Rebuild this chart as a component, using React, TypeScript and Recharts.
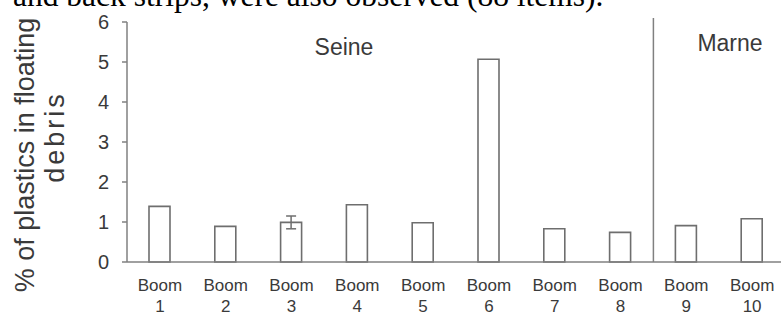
import React from 'react';
import { BarChart, Bar, XAxis, YAxis, ReferenceLine, ErrorBar, Customized } from 'recharts';

const boomNumbers = [1, 2, 3, 4, 5, 6, 7, 8, 9, 10];
const plasticShare = [1.39, 0.89, 0.99, 1.43, 0.98, 5.07, 0.83, 0.74, 0.91, 1.08];
const plasticError = [null, null, 0.16, null, null, null, null, null, null, null];
const yTicks = [0, 1, 2, 3, 4, 5, 6];
const firstMarneBoom = '9';
const boundaryTop = 6.1;
const yLabelLines = ['% of plastics in floating', 'debris'];
const riverNames = ['Seine', 'Marne'];
const captionText = 'and back strips, were also observed (88 items).';

const data = boomNumbers.map((n, i) => ({ boom: String(n), value: plasticShare[i], err: plasticError[i] }));

const AXIS = '#808080';
const TEXT = '#3a3a3a';
const FONT = '"Liberation Sans", Arial, sans-serif';

const BoomTick = (props: any) => {
  const { x, y, payload } = props;
  return (
    <g transform={`translate(${x},${y})`}>
      <text textAnchor="middle" fill={TEXT} fontFamily={FONT} fontSize={17}>
        <tspan x={0} y={21}>Boom</tspan>
        <tspan x={0} y={42}>{payload.value}</tspan>
      </text>
    </g>
  );
};

const Overlay = () => (
  <g fontFamily={FONT} fill={TEXT}>
    <text x={25} y={155} transform="rotate(-90 25 155)" textAnchor="middle" dominantBaseline="central" fontSize={27}>
      {yLabelLines[0]}
    </text>
    <text x={55} y={137} transform="rotate(-90 55 137)" textAnchor="middle" dominantBaseline="central" fontSize={27} letterSpacing={3}>
      {yLabelLines[1]}
    </text>
    <text x={344} y={55} textAnchor="middle" fontSize={23}>{riverNames[0]}</text>
    <text x={730} y={51} textAnchor="middle" fontSize={23}>{riverNames[1]}</text>
  </g>
);

export default function App() {
  return (
    <div style={{ position: 'absolute', left: 0, top: 0, width: 781, height: 313, overflow: 'hidden', background: '#fff' }}>
      <div
        style={{
          position: 'absolute',
          left: 13,
          top: -22,
          fontFamily: '"Liberation Serif", "Times New Roman", serif',
          fontSize: 31.5,
          lineHeight: '36px',
          whiteSpace: 'nowrap',
          color: '#000',
        }}
      >
        {captionText}
      </div>
      <BarChart width={790} height={313} data={data} margin={{ top: 22, right: 5, bottom: 0, left: 0 }}>
        <XAxis
          dataKey="boom"
          type="category"
          interval={0}
          height={51}
          stroke={AXIS}
          strokeWidth={1.5}
          tickLine={false}
          tick={<BoomTick />}
        />
        <YAxis
          type="number"
          domain={[0, 6]}
          ticks={yTicks}
          interval={0}
          width={127}
          stroke={AXIS}
          strokeWidth={1.5}
          tickSize={5}
          tickMargin={13}
          tick={{ fill: TEXT, fontSize: 20, fontFamily: FONT }}
        />
        <ReferenceLine
          segment={[{ x: firstMarneBoom, y: 0 }, { x: firstMarneBoom, y: boundaryTop }]}
          position="start"
          stroke={AXIS}
          strokeWidth={1.5}
          ifOverflow="visible"
        />
        <Bar dataKey="value" fill="#ffffff" stroke="#6e6e6e" strokeWidth={1.6} barSize={21} isAnimationActive={false}>
          <ErrorBar dataKey="err" width={5} stroke="#6e6e6e" strokeWidth={1.5} direction="y" />
        </Bar>
        <Customized component={Overlay} />
      </BarChart>
    </div>
  );
}
